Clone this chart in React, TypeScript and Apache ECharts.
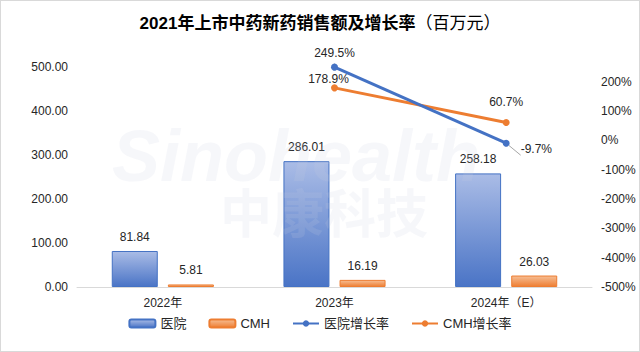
import React, { useEffect, useRef } from "react";
import * as echarts from "echarts";

const categories = ["2022年", "2023年", "2024年（E）"];
const hospitalSales = [81.84, 286.01, 258.18];
const cmhSales = [5.81, 16.19, 26.03];
const hospitalGrowth: (number | null)[] = [null, 249.5, -9.7];
const cmhGrowth: (number | null)[] = [null, 178.9, 60.7];

const FONT = "'Liberation Sans', 'Noto Sans CJK SC', sans-serif";

export default function App() {
  const ref = useRef<HTMLDivElement>(null);
  useEffect(() => {
    document.body.style.margin = "0";
    const chart = echarts.init(ref.current!, null, { renderer: "svg" });
    const blueGrad = new echarts.graphic.LinearGradient(0, 0, 0, 1, [
      { offset: 0, color: "#AABCE6" },
      { offset: 1, color: "#4A74C6" },
    ]);
    const orangeGrad = new echarts.graphic.LinearGradient(0, 0, 0, 1, [
      { offset: 0, color: "#F6BE94" },
      { offset: 1, color: "#EE7E33" },
    ]);
    const textStyle = { fontFamily: FONT, fontSize: 12, color: "#262626" };
    chart.setOption({
      animation: false,
      backgroundColor: "#ffffff",
      textStyle: { fontFamily: FONT },
      title: {
        text: "{b|2021年上市中药新药销售额及增长率}{n|（百万元）}",
        left: "center",
        top: 10,
        textStyle: {
          rich: {
            b: { fontFamily: FONT, fontSize: 17, fontWeight: "bold", color: "#000" },
            n: { fontFamily: FONT, fontSize: 17, fontWeight: "normal", color: "#000" },
          },
        },
      },
      graphic: [
        {
          type: "text",
          left: 112,
          top: 120,
          z: 100,
          silent: true,
          style: {
            text: "Sinohealth",
            font: "italic bold 72px 'Liberation Sans', sans-serif",
            fill: "rgba(200,208,224,0.16)",
          },
        },
        {
          type: "text",
          left: 220,
          top: 184,
          z: 100,
          silent: true,
          style: {
            text: "中康科技",
            font: "bold 52px 'Noto Sans CJK SC', sans-serif",
            fill: "rgba(200,208,224,0.16)",
          },
        },
      ],
      legend: {
        bottom: 17,
        left: "center",
        itemWidth: 26,
        itemHeight: 8,
        itemGap: 22,
        textStyle: { ...textStyle, fontSize: 13 },
        data: ["医院", "CMH", "医院增长率", "CMH增长率"],
      },
      grid: { left: 77, right: 48, top: 67, bottom: 65 },
      xAxis: {
        type: "category",
        data: categories,
        axisLine: { lineStyle: { color: "#D9D9D9" } },
        axisTick: { show: false },
        axisLabel: { ...textStyle, margin: 10 },
      },
      yAxis: [
        {
          type: "value",
          min: 0,
          max: 500,
          interval: 100,
          splitLine: { show: false },
          axisLine: { show: false },
          axisTick: { show: false },
          axisLabel: { ...textStyle, margin: 9, formatter: (v: number) => v.toFixed(2) },
        },
        {
          type: "value",
          min: -500,
          max: 250,
          interval: 100,
          splitLine: { show: false },
          axisLine: { show: false },
          axisTick: { show: false },
          axisLabel: { ...textStyle, margin: 9, showMaxLabel: false, formatter: "{value}%" },
        },
      ],
      series: [
        {
          name: "医院",
          type: "bar",
          data: hospitalSales,
          barWidth: 46,
          barGap: "22%",
          itemStyle: { color: blueGrad, borderColor: "#4472C4", borderWidth: 1 },
          label: { show: true, position: "top", distance: 8, ...textStyle, formatter: (p: any) => p.value.toFixed(2) },
        },
        {
          name: "CMH",
          type: "bar",
          data: cmhSales,
          barWidth: 46,
          itemStyle: { color: orangeGrad, borderColor: "#ED7D31", borderWidth: 1 },
          label: { show: true, position: "top", distance: 8, ...textStyle, formatter: (p: any) => p.value.toFixed(2) },
        },
        {
          name: "医院增长率",
          type: "line",
          yAxisIndex: 1,
          data: hospitalGrowth.map((v, i) =>
            i === 2
              ? { value: v, label: { position: "right", offset: [6, 6] } }
              : { value: v }
          ),
          symbol: "circle",
          symbolSize: 7,
          lineStyle: { color: "#4472C4", width: 3 },
          itemStyle: { color: "#4472C4" },
          label: { show: true, position: "top", ...textStyle, formatter: (p: any) => p.value + "%" },
          labelLine: { show: true, lineStyle: { color: "#A6A6A6" } },
          z: 5,
        },
        {
          name: "CMH增长率",
          type: "line",
          yAxisIndex: 1,
          data: cmhGrowth.map((v, i) =>
            i === 1
              ? { value: v, label: { offset: [-6, 6] } }
              : i === 2
              ? { value: v, label: { offset: [0, -6] } }
              : { value: v }
          ),
          symbol: "circle",
          symbolSize: 7,
          lineStyle: { color: "#ED7D31", width: 3 },
          itemStyle: { color: "#ED7D31" },
          label: { show: true, position: "top", ...textStyle, formatter: (p: any) => p.value + "%" },
          z: 4,
        },
      ],
    });
    return () => chart.dispose();
  }, []);
  return (
    <div
      style={{
        position: "relative",
        width: 640,
        height: 352,
        boxSizing: "border-box",
        border: "1px solid #D9D9D9",
        overflow: "hidden",
      }}
    >
      <div ref={ref} style={{ position: "absolute", left: -1, top: -1, width: 640, height: 352 }} />
    </div>
  );
}
